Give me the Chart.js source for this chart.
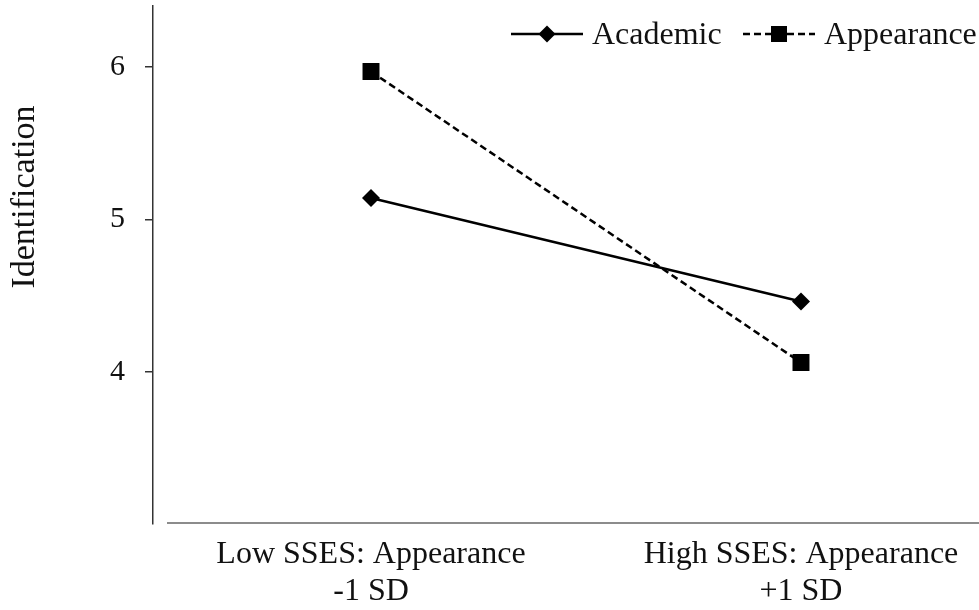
<!DOCTYPE html>
<html>
<head>
<meta charset="utf-8">
<script src="https://cdn.jsdelivr.net/npm/chart.js@4.4.1/dist/chart.umd.min.js"></script>
<style>
  html, body { margin: 0; padding: 0; background: #fff; }
  #wrap { width: 979px; height: 610px; }
</style>
</head>
<body>
<div id="wrap"><canvas id="chart"></canvas></div>
<script>
    /* --- DATA --- */
    const categories = [['Low SSES: Appearance', '-1 SD'], ['High SSES: Appearance', '+1 SD']];
    const academic = [5.14, 4.46];
    const appearance = [5.97, 4.06];
    const yTicks = [4, 5, 6];
    const yTitle = 'Identification';

    const serif = "'Liberation Serif', 'Times New Roman', serif";

    const toPoints = vals => vals.map((v, i) => ({ x: i, y: v }));

    // Legend + y title drawn by hand so they can sit where the original has them
    const extras = {
        id: 'extras',
        afterDraw(chart) {
            const ctx = chart.ctx;
            const area = chart.chartArea;
            ctx.save();

            // x axis line, detached from the y axis like the original
            ctx.strokeStyle = '#666';
            ctx.lineWidth = 1.5;
            ctx.beginPath();
            ctx.moveTo(area.left + 14, area.bottom - 1);
            ctx.lineTo(area.right, area.bottom - 1);
            ctx.stroke();

            // y title
            ctx.fillStyle = '#111';
            ctx.font = '34px ' + serif;
            ctx.textAlign = 'center';
            ctx.textBaseline = 'middle';
            ctx.translate(25, 197);
            ctx.rotate(-Math.PI / 2);
            ctx.fillText(yTitle, 0, 0);
            ctx.setTransform(1, 0, 0, 1, 0, 0);

            // legend
            const items = [
                { ds: chart.data.datasets[0], x: 511 },
                { ds: chart.data.datasets[1], x: 743 }
            ];
            const ly = 34;
            ctx.font = '32px ' + serif;
            ctx.textAlign = 'left';
            ctx.textBaseline = 'middle';
            items.forEach(it => {
                const ds = it.ds;
                ctx.strokeStyle = '#000';
                ctx.lineWidth = 2.5;
                ctx.setLineDash(ds.borderDash || []);
                ctx.beginPath();
                ctx.moveTo(it.x, ly);
                ctx.lineTo(it.x + 72, ly);
                ctx.stroke();
                ctx.setLineDash([]);
                const cx = it.x + 36;
                ctx.fillStyle = '#000';
                ctx.beginPath();
                if (ds.pointStyle === 'rectRot') {
                    const r = 8.5;
                    ctx.moveTo(cx, ly - r);
                    ctx.lineTo(cx + r, ly);
                    ctx.lineTo(cx, ly + r);
                    ctx.lineTo(cx - r, ly);
                    ctx.closePath();
                } else {
                    ctx.rect(cx - 8, ly - 8, 16, 16);
                }
                ctx.fill();
                ctx.fillStyle = '#111';
                ctx.fillText(ds.label, it.x + 81, ly + 2);
            });
            ctx.restore();
        }
    };

    const ctx = document.getElementById('chart').getContext('2d');
    new Chart(ctx, {
        type: 'line',
        data: {
            datasets: [
                {
                    label: 'Academic',
                    data: toPoints(academic),
                    borderColor: '#000',
                    backgroundColor: '#000',
                    borderWidth: 2.5,
                    pointStyle: 'rectRot',
                    pointRadius: 9,
                    pointHoverRadius: 9,
                    pointBorderWidth: 0
                },
                {
                    label: 'Appearance',
                    data: toPoints(appearance),
                    borderColor: '#000',
                    backgroundColor: '#000',
                    borderWidth: 2.5,
                    borderDash: [7, 4],
                    pointStyle: 'rect',
                    pointRadius: 12,
                    pointHoverRadius: 12,
                    pointBorderWidth: 0
                }
            ]
        },
        options: {
            responsive: true,
            maintainAspectRatio: false,
            animation: false,
            layout: { autoPadding: false, padding: { top: 6, right: 0, bottom: 0, left: 0 } },
            plugins: {
                legend: { display: false },
                tooltip: { enabled: false }
            },
            scales: {
                x: {
                    type: 'linear',
                    min: -0.507,
                    max: 1.414,
                    afterBuildTicks: s => { s.ticks = categories.map((c, i) => ({ value: i })); },
                    afterFit: s => {
                        s.height = 86;
                        s.paddingLeft = 0; s.paddingRight = 0;
                    },
                    grid: { display: false, drawTicks: false },
                    border: { display: false },
                    ticks: {
                        padding: 12,
                        color: '#111',
                        maxRotation: 0,
                        font: { family: serif, size: 32, lineHeight: 1.16 },
                        callback: v => categories[v]
                    }
                },
                y: {
                    min: 3,
                    max: 6.4,
                    afterBuildTicks: s => { s.ticks = yTicks.map(v => ({ value: v })); },
                    afterFit: s => {
                        s.width = 153;
                        s.paddingTop = 0; s.paddingBottom = 0;
                    },
                    grid: {
                        display: true,
                        drawOnChartArea: false,
                        drawTicks: true,
                        tickLength: 8,
                        color: '#333',
                        lineWidth: 1.5
                    },
                    border: { display: true, color: '#333', width: 1.5 },
                    ticks: {
                        padding: 20,
                        color: '#111',
                        font: { family: serif, size: 30 },
                        callback: v => String(v)
                    }
                }
            }
        },
        plugins: [extras]
    });
</script>
</body>
</html>
